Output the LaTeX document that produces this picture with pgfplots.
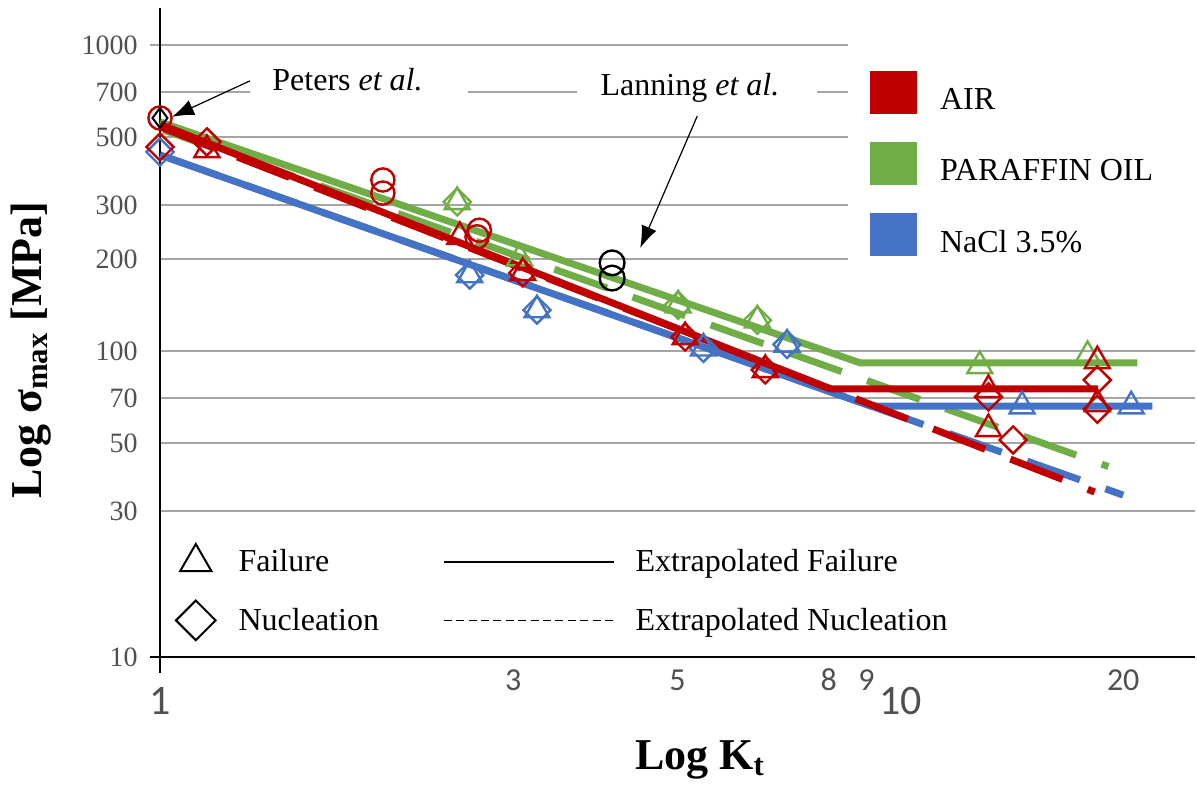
\documentclass[border=0pt]{standalone}
\usepackage{fontspec}
\setmainfont{Liberation Serif}
\newfontfamily\carlito{Carlito}
\usepackage{pgfplots}
\pgfplotsset{compat=1.18}
\usetikzlibrary{arrows.meta}
\definecolor{airred}{RGB}{192,0,0}
\definecolor{oilgreen}{RGB}{112,173,71}
\definecolor{naclblue}{RGB}{68,114,196}
\definecolor{gridgray}{RGB}{165,165,165}
\definecolor{labgray}{RGB}{80,80,80}
\pgfplotsset{
  legmark/.style={legend image code/.code={\draw[##1] plot coordinates {(0pt,0pt)};}},
  legline/.style={legend image code/.code={\draw[##1] (0pt,0pt) -- (85pt,0pt);}},
  legsq/.style={legend image code/.code={\fill[##1] (0pt,-10.75pt) rectangle (23.5pt,10.75pt);}},
  fitl/.style={line width=3.5pt, forget plot},
  dfit/.style={line width=3.5pt, dash pattern=on 28pt off 13.5pt, forget plot},
  tri/.style={only marks, mark=triangle, mark size=7.2pt, line width=1.2pt, forget plot},
  dia/.style={only marks, mark=square, mark size=4.8pt, mark options={rotate=45}, line width=1.2pt, forget plot},
  cir/.style={only marks, mark=o, mark size=5.8pt, line width=1.2pt, forget plot},
}
\begin{document}
\begin{tikzpicture}
\begin{axis}[
  at={(0,0)}, anchor=south west, scale only axis,
  width=517.5pt, height=324.5pt,
  xmode=log, ymode=log,
  xmin=1, xmax=25, ymin=10, ymax=1320,
  axis lines*=left,
  axis line style={black, line width=0.8pt},
  clip=false,
  xminorticks=false, yminorticks=false,
  major tick length=0pt,
  xtick={1,3,5,8,9,10,20},
  xticklabels={{\raisebox{-12pt}{\fontsize{21}{24}\selectfont 1}},3,5,8,9,{\raisebox{-12pt}{\fontsize{21}{24}\selectfont 10}},20},
  xticklabel style={font=\carlito\fontsize{16}{18}\selectfont, text=labgray, anchor=base, inner sep=0pt, yshift=-16.5pt},
  ytick={10,30,50,70,100,200,300,500,700,1000},
  yticklabels={10,30,50,70,100,200,300,500,700,1000},
  yticklabel style={font=\fontsize{14}{17}\selectfont, text=labgray, anchor=east, inner sep=0pt, xshift=-11pt},
  ymajorgrids, grid style={gridgray, line width=0.9pt, shorten <=-5pt},
  xlabel={Log K\textsubscript{t}},
  xlabel style={font=\fontsize{22}{26}\selectfont\bfseries, at={(axis description cs:0.5217,-0.1733)}, anchor=base},
  ylabel={Log σ\textsubscript{max} [MPa]},
  ylabel style={font=\fontsize{22}{26}\selectfont\bfseries, at={(axis description cs:-0.1246,0.473)}, anchor=center},
  legend columns=2,
  legend cell align=left,
  legend style={draw=none, fill=none, inner sep=0pt, outer sep=0pt,
    at={(0.01546,0.1741)}, anchor=north west,
    font=\fontsize{16}{19}\selectfont, nodes={inner sep=0pt},
    row sep=13pt,
    /tikz/column 1/.style={column sep=11.5pt},
    /tikz/column 2/.style={column sep=32pt},
    /tikz/column 3/.style={column sep=10.5pt}},
]
\addlegendimage{legmark, black, only marks, mark=triangle, mark size=9pt, line width=1pt}
\addlegendentry{Failure}
\addlegendimage{legline, black, line width=0.8pt}
\addlegendentry{Extrapolated Failure}
\addlegendimage{legmark, black, only marks, mark=square, mark size=7pt, mark options={rotate=45}, line width=1pt}
\addlegendentry{Nucleation}
\addlegendimage{legline, black, line width=0.8pt, dash pattern=on 4pt off 2.2pt}
\addlegendentry{Extrapolated Nucleation}

% white masks (legend area and text backgrounds)
\fill[white] (axis cs:8.51,158) rectangle (axis cs:25,1320);
\fill[white] (axis cs:1.323,637) rectangle (axis cs:2.61,769);
\fill[white] (axis cs:3.66,637) rectangle (axis cs:7.72,769);

% extrapolation lines
\addplot[dfit, oilgreen, dash phase=39.7pt] coordinates {(1,532) (19.1,41.9)};
\addplot[dfit, naclblue, dash phase=38.2pt] coordinates {(1,437) (20,33.8)};
\addplot[fitl, oilgreen] coordinates {(1,560) (8.83,91.4) (20.9,91.4)};
\addplot[fitl, naclblue] coordinates {(1,437) (9.12,66) (21.9,66)};
\addplot[dfit, airred] coordinates {(1,540) (18.3,34.6)};
\addplot[fitl, airred] coordinates {(1,550) (8.04,75.2) (18.5,75.2)};

% NaCl
\addplot[dia, naclblue] coordinates {(1,447) (2.62,177) (3.23,136) (5.42,102) (7.03,105)};
\addplot[tri, naclblue] coordinates {(2.62,177) (3.23,136) (5.42,102) (7.03,105) (14.6,66) (20.5,66)};
% Paraffin oil
\addplot[dia, oilgreen] coordinates {(2.52,307) (5.01,141) (6.41,126)};
\addplot[tri, oilgreen] coordinates {(2.52,307) (3.06,201) (5.01,141) (6.41,126) (12.8,89.3) (17.9,96.4)};
% Air
\addplot[dia, airred] coordinates {(1,464) (1.157,482) (3.09,180) (5.12,111) (6.57,86.7) (13.15,70.8) (14.2,51.2) (18.45,80.4) (18.45,64.5)};
\addplot[tri, airred] coordinates {(1.157,454) (2.54,236) (3.09,180) (5.12,111) (6.57,86.7) (13.15,74.6) (13.15,55.6) (18.45,92.7) (18.45,67.1)};
\addplot[cir, airred] coordinates {(1,577) (2.0,362) (2.0,328) (2.70,248) (2.68,236)};
% literature
\addplot[only marks, mark=o, mark size=6.2pt, line width=1.2pt, black, forget plot] coordinates {(4.08,194) (4.08,173)};
\addplot[only marks, mark=diamond, mark size=5pt, line width=1pt, black, forget plot] coordinates {(1,577)};

% axis extensions
\draw[black, line width=0.8pt] (axis cs:1,10) -- ++(0pt,-8pt);
\draw[black, line width=0.8pt] (axis cs:1,10) -- ++(-5pt,0pt);

% annotations
\node[anchor=base west, font=\fontsize{16}{19}\selectfont, inner sep=0pt] at (axis cs:1.417,708) {Peters \textit{et al.}};
\node[anchor=base west, font=\fontsize{16}{19}\selectfont, inner sep=0pt] at (axis cs:3.933,681) {Lanning \textit{et al.}};
\draw[-{Latex[length=11pt,width=8pt]}, line width=0.6pt] (axis cs:1.323,763) -- (axis cs:1.038,582);
\draw[-{Latex[length=11pt,width=8pt]}, line width=0.6pt] (axis cs:5.318,586) -- (axis cs:4.453,217);
\end{axis}

\begin{axis}[
  at={(0,0)}, anchor=south west, scale only axis,
  width=517.5pt, height=324.5pt,
  hide axis, xmin=0, xmax=1, ymin=0, ymax=1,
  legend cell align=left,
  legend style={draw=none, fill=none, inner sep=0pt, outer sep=0pt,
    at={(0.68599,0.90293)}, anchor=north west,
    font=\fontsize{16}{19}\selectfont, nodes={inner sep=0pt, yshift=-4pt},
    row sep=14pt,
    /tikz/column 1/.style={column sep=11.5pt}},
]
\addlegendimage{legsq, fill=airred, draw=none}
\addlegendentry{AIR}
\addlegendimage{legsq, fill=oilgreen, draw=none}
\addlegendentry{PARAFFIN OIL}
\addlegendimage{legsq, fill=naclblue, draw=none}
\addlegendentry{NaCl 3.5\%}
\end{axis}
\pgfresetboundingbox
\path (-80pt,-65pt) rectangle (518.5pt,328.5pt);
\end{tikzpicture}
\end{document}
